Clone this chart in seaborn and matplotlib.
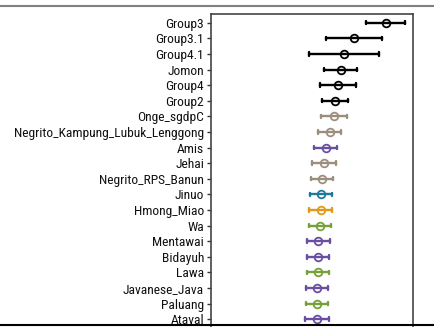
import numpy as np
import pandas as pd
import seaborn as sns
import matplotlib.pyplot as plt
from matplotlib.lines import Line2D

# populations, top to bottom
pops = ['Group3', 'Group3.1', 'Group4.1', 'Jomon', 'Group4', 'Group2',
        'Onge_sgdpC', 'Negrito_Kampung_Lubuk_Lenggong', 'Amis', 'Jehai',
        'Negrito_RPS_Banun', 'Jinuo', 'Hmong_Miao', 'Wa', 'Mentawai',
        'Bidayuh', 'Lawa', 'Javanese_Java', 'Paluang', 'Ataval']

# estimate and half-width of the error bar
est = [0.01730, 0.01413, 0.01320, 0.01284, 0.01254, 0.01228,
       0.01218, 0.01175, 0.01136, 0.01116, 0.01102, 0.01092,
       0.01086, 0.01079, 0.01062, 0.01062, 0.01059, 0.01052,
       0.01049, 0.01049]
err = [0.00195, 0.00277, 0.00348, 0.00165, 0.00177, 0.00129,
       0.00127, 0.00112, 0.00112, 0.00119, 0.00110, 0.00109,
       0.00115, 0.00109, 0.00115, 0.00109, 0.00109, 0.00107,
       0.00110, 0.00119]

colours = ['black'] * 6 + ['#9C8E7E', '#9C8E7E', '#6A4FA0', '#9C8E7E',
           '#9C8E7E', '#1F7A9A', '#E09A1A', '#76A03A', '#6A4FA0',
           '#6A4FA0', '#76A03A', '#6A4FA0', '#76A03A', '#6A4FA0']

# low / estimate / high rows -> median is the estimate, full range is the bar
rows = []
for p, e, s in zip(pops, est, err):
    rows += [(p, e - s), (p, e), (p, e + s)]
df = pd.DataFrame(rows, columns=['pop', 'value'])

sns.set_style('white')
plt.rcParams['font.family'] = ['Roboto Condensed', 'DejaVu Sans']

fig = plt.figure(figsize=(4.35, 3.27), dpi=100)
ax = fig.add_axes([211 / 435, 0, 202 / 435, 1 - 14 / 327])

sns.pointplot(data=df, x='value', y='pop', hue='pop', order=pops,
              hue_order=pops, palette=dict(zip(pops, colours)),
              estimator='median', errorbar=('pi', 100), linestyles='none',
              markers='o', capsize=0.22, markersize=5.5, markeredgewidth=1.3,
              markerfacecolor='none', err_kws={'linewidth': 1.7},
              legend=False, ax=ax)

ax.set_xlim(0, 0.02)
ax.set_ylim(19.5, -0.56)
ax.set_xlabel('')
ax.set_ylabel('')
ax.set_xticks([])
ax.tick_params(axis='y', left=True, length=3, width=1, color='#333333',
               pad=2, labelsize=9.7, labelcolor='#111111')
for side in ['left', 'right', 'top']:
    ax.spines[side].set_color('#444444')
    ax.spines[side].set_linewidth(1.2)
ax.spines['bottom'].set_visible(False)

fig.add_artist(Line2D([0, 1], [1 - 5.5 / 327] * 2, transform=fig.transFigure,
                      color='#808080', linewidth=1.5))
fig.add_artist(Line2D([0, 1], [1 - 325 / 327] * 2, transform=fig.transFigure,
                      color='black', linewidth=1.5))

fig.savefig('out.png', dpi=100)
